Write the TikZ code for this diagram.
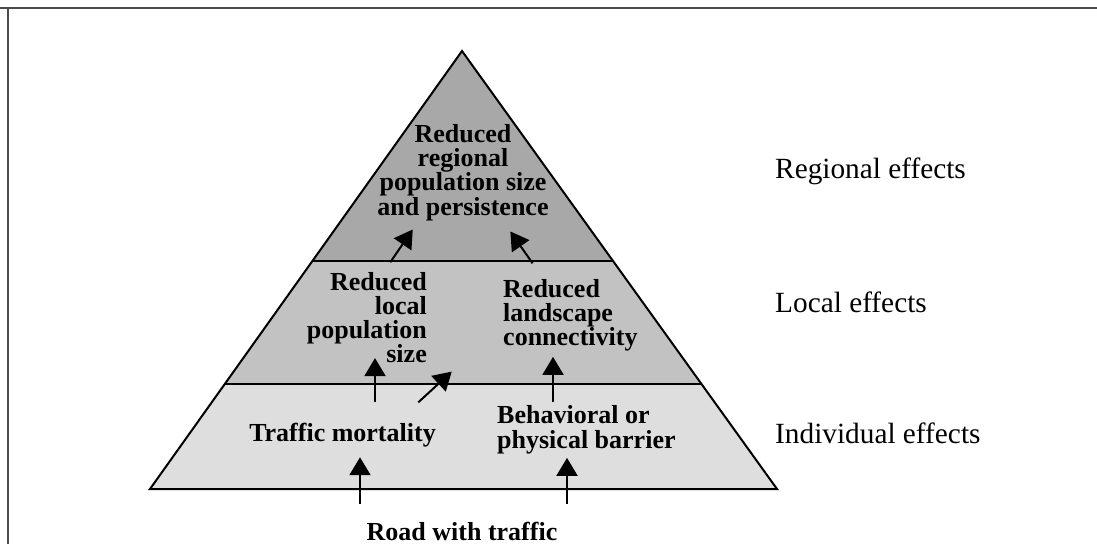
\documentclass[tikz,border=0pt]{standalone}
\usepackage{fontspec}
\setmainfont{Liberation Serif}
\usetikzlibrary{arrows.meta, calc}

\definecolor{tierhigh}{gray}{0.66}
\definecolor{tiermid}{gray}{0.76}
\definecolor{tierlow}{gray}{0.87}

\begin{document}
\begin{tikzpicture}[
        x = 1pt, y = -1pt,
        >= {Triangle[width = 21pt, length = 18pt]},
        every node/.style = {inner sep = 0pt},
        effect/.style = {font = \bfseries\fontsize{26}{24}\selectfont},
        scale label/.style = {font = \fontsize{29.3}{30}\selectfont, anchor = base west},
        link/.style = {->, line width = 2pt},
        tier line/.style = {draw = black, line width = 2pt}
    ]

      \useasboundingbox (0,0) rectangle (1097,544);
      \draw[black!70, line width = 2pt] (0,8) -- (1097,8) (8,8) -- (8,544);

      % pyramid
      \coordinate (apex) at (462,51);
      \coordinate (bl) at (150,489);
      \coordinate (br) at (777,489);
      \coordinate (ml) at ($(apex)!0.4795!(bl)$);
      \coordinate (mr) at ($(apex)!0.4795!(br)$);
      \coordinate (ll) at ($(apex)!0.7603!(bl)$);
      \coordinate (lr) at ($(apex)!0.7603!(br)$);

      \fill[tierhigh] (apex) -- (ml) -- (mr) -- cycle;
      \fill[tiermid] (ml) -- (ll) -- (lr) -- (mr) -- cycle;
      \fill[tierlow] (ll) -- (bl) -- (br) -- (lr) -- cycle;
      \draw[tier line, line join = miter] (apex) -- (bl) -- (br) -- cycle;
      \draw[tier line] (ml) -- (mr) (ll) -- (lr);

      % effects
      \node[effect, align = center, anchor = north, font = \bfseries\fontsize{26}{23.5}\selectfont]
            (reg) at (463,124.4) {Reduced\\regional\\population size\\and persistence};
      \node[effect, align = right, anchor = north east] (loc) at (427,272.4)
            {Reduced\\local\\population\\size};
      \node[effect, align = left, anchor = north west] (land) at (503,279.4)
            {Reduced\\landscape\\connectivity};
      \node[effect, anchor = base] (mort) at (342.5,441) {Traffic mortality};
      \node[effect, align = left, anchor = north west, font = \bfseries\fontsize{26}{25}\selectfont]
            (barrier) at (497,405.4) {Behavioral or\\physical barrier};
      \node[effect, anchor = base] (road) at (462,540) {Road with traffic};

      % scales
      \node[scale label] (regional) at (775,178) {Regional effects};
      \node[scale label] (local) at (775,312) {Local effects};
      \node[scale label] (individual) at (775,443) {Individual effects};

      \draw[link, shorten < = 17.4pt, shorten > = 10.4pt] (road.north -| 360,0) -- (mort.south -| 360,0);
      \draw[link, shorten < = 17.4pt, shorten > = 3.4pt] (road.north -| 567,0) -- (barrier.south -| 567,0);
      \draw[link, shorten < = 20.4pt, shorten > = -5pt] (mort.north -| 375,0) -- (loc.south -| 375,0);
      \draw[link, shorten < = 3.4pt, shorten > = 5.4pt] (barrier.north -| 553,0) -- (land.south -| 553,0);
      \draw[link, shorten < = 29.8pt, shorten > = 29.8pt] (mort.north -| 396.3,0) -- (land.south -| 473.7,0);
      \draw[link, shorten < = 12.3pt, shorten > = 10pt] (loc.north -| 383.3,0) -- (reg.south -| 418.4,0);
      \draw[link, shorten < = 19.6pt, shorten > = 12.5pt] (land.north -| 543.8,0) -- (reg.south -| 503.2,0);

    \end{tikzpicture}
\end{document}
